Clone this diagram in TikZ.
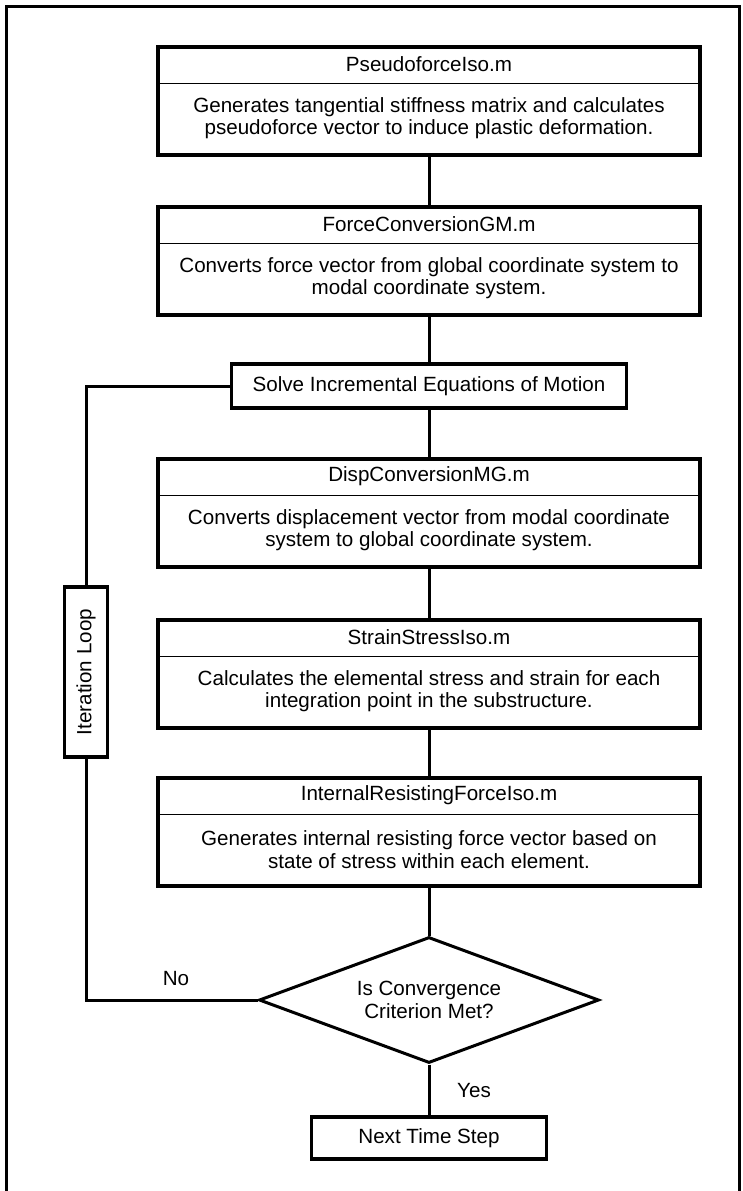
\documentclass[tikz,border=0pt]{standalone}
\usepackage{fontspec}
\setmainfont{Liberation Sans}
\usetikzlibrary{shapes.geometric}
\begin{document}
\begin{tikzpicture}[x=0.5pt,y=-0.5pt,
  txt/.style={font=\fontsize{10.3}{11.35}\selectfont, align=center, inner sep=0pt},
  bigbox/.style={draw, line width=1.7pt, fill=white, minimum width=271pt,
    minimum height=54pt, inner sep=0pt},
  smallbox/.style={draw, line width=1.7pt, fill=white, inner sep=0pt, txt},
  divider/.style={line width=0.6pt},
  link/.style={line width=1.5pt},
  frame/.style={line width=1.5pt}]
\useasboundingbox (0,0) rectangle (743,1191);

% page frame (runs off the bottom edge)
\draw[frame] (6,1200) -- (6,6) -- (739,6) -- (739,1200);

% module boxes: title row above a thin divider, description below
\node[bigbox] (b1) at (429,101) {};
\draw[divider] ([yshift=-19pt]b1.north west) -- ([yshift=-19pt]b1.north east);
\node[txt] (b1t) at ([yshift=-9.5pt]b1.north) {PseudoforceIso.m};
\node[txt] (b1d) at ([yshift=-36.5pt]b1.north)
  {Generates tangential stiffness matrix and calculates\\pseudoforce vector to induce plastic deformation.};

\node[bigbox] (b2) at (429,261) {};
\draw[divider] ([yshift=-19pt]b2.north west) -- ([yshift=-19pt]b2.north east);
\node[txt] (b2t) at ([yshift=-9.5pt]b2.north) {ForceConversionGM.m};
\node[txt] (b2d) at ([yshift=-36.5pt]b2.north)
  {Converts force vector from global coordinate system to\\modal coordinate system.};

\node[smallbox, minimum width=197.5pt, minimum height=22pt] (solve) at (429,386)
  {Solve Incremental Equations of Motion};

\node[bigbox] (b3) at (429,513) {};
\draw[divider] ([yshift=-19pt]b3.north west) -- ([yshift=-19pt]b3.north east);
\node[txt] (b3t) at ([yshift=-9.5pt]b3.north) {DispConversionMG.m};
\node[txt] (b3d) at ([yshift=-36.5pt]b3.north)
  {Converts displacement vector from modal coordinate\\system to global coordinate system.};

\node[bigbox] (b4) at (429,674) {};
\draw[divider] ([yshift=-19pt]b4.north west) -- ([yshift=-19pt]b4.north east);
\node[txt] (b4t) at ([yshift=-9.5pt]b4.north) {StrainStressIso.m};
\node[txt] (b4d) at ([yshift=-36.5pt]b4.north)
  {Calculates the elemental stress and strain for each\\integration point in the substructure.};

\node[bigbox] (b5) at (429,832) {};
\draw[divider] ([yshift=-19pt]b5.north west) -- ([yshift=-19pt]b5.north east);
\node[txt] (b5t) at ([yshift=-9.5pt]b5.north) {InternalResistingForceIso.m};
\node[txt] (b5d) at ([yshift=-36.5pt]b5.north)
  {Generates internal resisting force vector based on\\state of stress within each element.};

% decision and exit
\node[diamond, draw, line width=1.5pt, fill=white, aspect=2.7, inner sep=0pt,
  minimum width=170pt, minimum height=63pt, txt] (dec) at (429,1000)
  {Is Convergence\\Criterion Met?};
\node[smallbox, minimum width=117.5pt, minimum height=21pt] (next) at (429,1138)
  {Next Time Step};

% iteration loop label box on the return path
\node[smallbox, rotate=90, minimum width=85pt, minimum height=21.5pt] (loop) at (86,672)
  {Iteration Loop};

% main flow
\draw[link] (b1.south) -- (b2.north);
\draw[link] (b2.south) -- (solve.north);
\draw[link] (solve.south) -- (b3.north);
\draw[link] (b3.south) -- (b4.north);
\draw[link] (b4.south) -- (b5.north);
\draw[link] (b5.south) -- (dec.north);
\draw[link] (dec.south) -- (next.north);

% return path
\draw[link] (dec.west) -| (loop.west);
\draw[link] (loop.east) |- (solve.west);

\node[txt] (no) at (176,978) {No};
\node[txt] (yes) at (474,1090) {Yes};
\end{tikzpicture}
\end{document}
